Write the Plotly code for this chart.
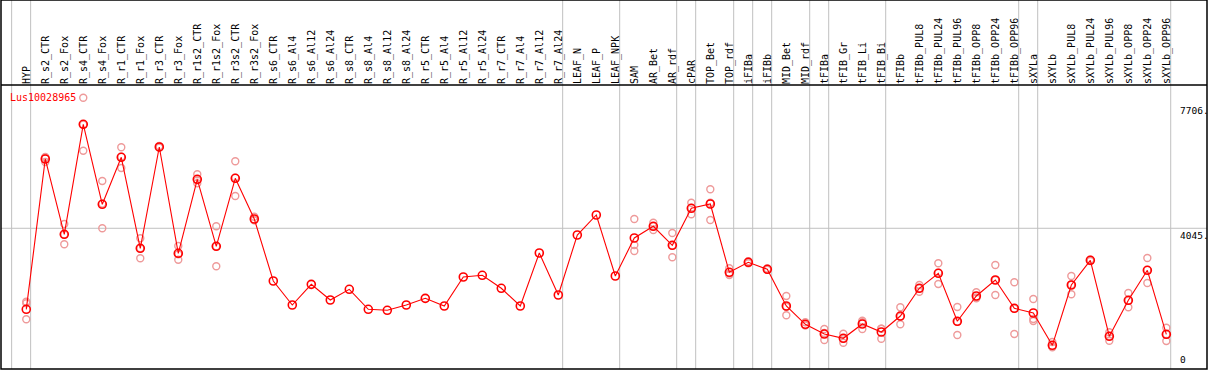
import plotly.graph_objects as go

categories = ["HYP", "R_s2_CTR", "R_s2_Fox", "R_s4_CTR", "R_s4_Fox", "R_r1_CTR", "R_r1_Fox",
              "R_r3_CTR", "R_r3_Fox", "R_r1s2_CTR", "R_r1s2_Fox", "R_r3s2_CTR", "R_r3s2_Fox",
              "R_s6_CTR", "R_s6_Al4", "R_s6_Al12", "R_s6_Al24", "R_s8_CTR", "R_s8_Al4",
              "R_s8_Al12", "R_s8_Al24", "R_r5_CTR", "R_r5_Al4", "R_r5_Al12", "R_r5_Al24",
              "R_r7_CTR", "R_r7_Al4", "R_r7_Al12", "R_r7_Al24", "LEAF_N", "LEAF_P", "LEAF_NPK",
              "SAM", "AR_Bet", "AR_rdf", "cPAR", "TOP_Bet", "TOP_rdf", "iFIBa", "iFIBb",
              "MID_Bet", "MID_rdf", "tFIBa", "tFIB_Gr", "tFIB_Li", "tFIB_Bi", "tFIBb",
              "tFIBb_PUL8", "tFIBb_PUL24", "tFIBb_PUL96", "tFIBb_OPP8", "tFIBb_OPP24",
              "tFIBb_OPP96", "sXYLa", "sXYLb", "sXYLb_PUL8", "sXYLb_PUL24", "sXYLb_PUL96",
              "sXYLb_OPP8", "sXYLb_OPP24", "sXYLb_OPP96"]

means = [1677, 6069, 3869, 7083, 4745, 6118, 3460, 6420, 3313, 5476, 3518, 5505, 4316,
         2504, 1803, 2407, 1949, 2261, 1677, 1648, 1803, 1998, 1774, 2621, 2671, 2291, 1774,
         3322, 2095, 3848, 4433, 2650, 3761, 4102, 3547, 4628, 4754, 2758, 3051, 2846, 1774,
         1239, 955, 830, 1248, 1014, 1481, 2291, 2729, 1327, 2066, 2533, 1706, 1569, 625,
         2387, 3109, 888, 1940, 2817, 947]

N = None
rep_a = [1899, 6130, 4170, 7860, 5426, 6411, 3752, 6450, 3527, 5622, 4102, 6002, 4383,
         N, N, N, N, N, N, N, N, N, N, N, N, N, N, N, N, N, N, N,
         4316, 4208, 3907, 4792, 5184, 2875, 3080, 2870, 2066, 1297, 1102, 964, 1344, 1110,
         1736, 2387, 3021, 1744, 2174, 2972, 2466, 1978, 722, 2650, 3130, 1005, 2154, 3176, 1140]
rep_b = [1385, 5980, 3576, 6312, 4044, 5806, 3167, 6400, 3127, 5359, 2934, 4988, 4287,
         N, N, N, N, N, N, N, N, N, N, N, N, N, N, N, N, N, N, N,
         3381, 3994, 3196, 4453, 4287, 2679, 3020, 2830, 1502, 1210, 780, 701, 1102, 818,
         1239, 2192, 2416, 926, 1999, 2095, 955, 1335, 567, 2116, 3090, 760, 1736, 2446, 751]
rep_c = [1853, 6100, 3861, 7077, 4765, 6137, 3461, 6410, 3285, 5447, 3518, 5525, 4278,
         N, N, N, N, N, N, N, N, N, N, N, N, N, N, N, N, N, N, N,
         3556, 4104, 3538, 4640, 4791, 2720, 3053, 2838, 1754, 1210, 983, 825, 1298, 1114,
         1468, 2294, 2750, 1311, 2025, 2532, 1697, 1394, 586, 2395, 3107, 899, 1930, 2829, 950]

# group boundaries: separator drawn after these category indices
group_ends = [-1, 0, 28, 31, 34, 35, 37, 38, 39, 41, 42, 45, 52, 53, 60]

y_labels = [7706, 4045, 0]
gene = "Lus10028965"

xs = list(range(len(categories)))
FONT = "DejaVu Sans Mono"

fig = go.Figure()
rx, ry = [], []
for reps in (rep_a, rep_b, rep_c):
    for i, v in enumerate(reps):
        if v is not None:
            rx.append(i)
            ry.append(v)
fig.add_trace(go.Scatter(x=rx, y=ry, mode="markers",
                         marker=dict(symbol="circle-open", size=7, color="#EE9A9A",
                                     line=dict(width=1.4)),
                         showlegend=False, hoverinfo="skip"))
fig.add_trace(go.Scatter(x=xs, y=means, mode="lines+markers",
                         line=dict(color="#FF0000", width=1.1),
                         marker=dict(symbol="circle-open", size=8, color="#FF0000",
                                     line=dict(width=1.6)),
                         showlegend=False))

top = 1 + 85 / 284
shapes = []
for g in group_ends:
    shapes.append(dict(type="line", xref="x", yref="paper", x0=g + 0.23, x1=g + 0.23,
                       y0=0, y1=top, line=dict(color="#C0C0C0", width=1), layer="below"))
shapes.append(dict(type="line", xref="paper", yref="y", x0=0, x1=1, y0=y_labels[1],
                   y1=y_labels[1], line=dict(color="#C0C0C0", width=1), layer="below"))
shapes.append(dict(type="line", xref="paper", yref="paper", x0=0, x1=1, y0=1, y1=1,
                   line=dict(color="black", width=1.5)))
shapes.append(dict(type="rect", xref="paper", yref="paper", x0=0, x1=1, y0=0, y1=top,
                   line=dict(color="black", width=1.5)))

ann = [dict(text=gene, xref="paper", yref="paper", x=(8 - 1) / 1206, y=(369 - 97) / 284,
            xanchor="left", yanchor="middle", showarrow=False,
            font=dict(family=FONT, size=10, color="#FF0000"))]
for v in y_labels:
    ann.append(dict(text=(f"{v}." if v else "0"), xref="paper", yref="y",
                    x=(1178 - 1) / 1206, y=v, xanchor="left",
                    yanchor=("top" if v else "bottom"), showarrow=False,
                    font=dict(family=FONT, size=9.5, color="black")))

fig.update_layout(
    width=1209, height=370,
    margin=dict(l=1, r=2, t=85, b=1, autoexpand=False),
    paper_bgcolor="white", plot_bgcolor="white",
    shapes=shapes, annotations=ann,
    xaxis=dict(side="top", tickmode="array", tickvals=xs, ticktext=categories,
               tickangle=-90, range=[-1.33, 62.14], showgrid=False, zeroline=False,
               showline=False, ticks="", automargin=False,
               tickfont=dict(family=FONT, size=10, color="black")),
    yaxis=dict(range=[-67, 8231], showgrid=False, zeroline=False, showticklabels=False,
               showline=False, ticks="", automargin=False),
)

fig.write_html("out.html", config={"displayModeBar": False},
               post_script="document.body.style.margin='0';document.body.style.overflow='hidden';")
